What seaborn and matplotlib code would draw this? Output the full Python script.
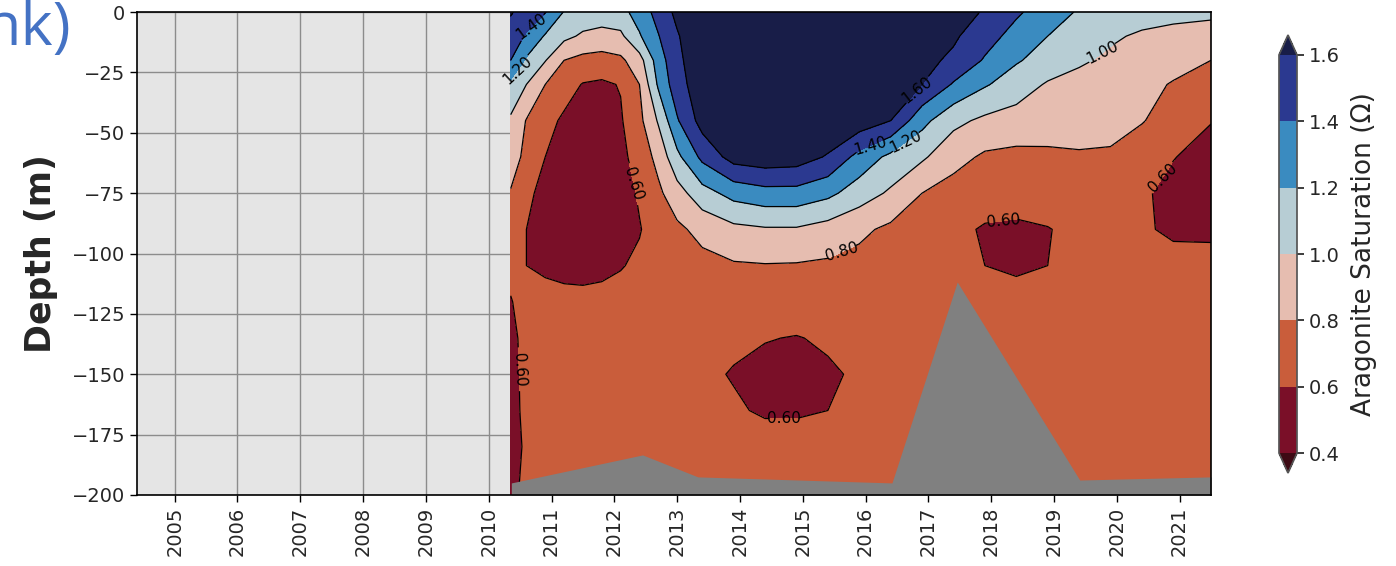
#------------------------------------------------------------------------------#
#                  Aragonite saturation - depth / time section
#------------------------------------------------------------------------------#

import matplotlib
matplotlib.use("Agg")
import matplotlib.pyplot as plt
from matplotlib.colors import ListedColormap
import seaborn as sns

# Data ------------------------------------------------------------------------#

years = [2010.35, 2010.6, 2010.9, 2011.2, 2011.5, 2011.8, 2012.1, 2012.4,
         2012.7, 2013.0, 2013.4, 2013.9, 2014.4, 2014.9, 2015.4, 2015.9,
         2016.4, 2016.9, 2017.4, 2017.9, 2018.4, 2018.9, 2019.4, 2019.9,
         2020.4, 2020.9, 2021.5]

depths = [0, -10, -20, -30, -45, -60, -75, -90, -105, -120, -135, -150, -165, -180, -200]

# one row per depth, one value per year
omega = [
    [1.62, 1.50, 1.41, 1.19, 1.12, 1.10, 1.13, 1.29, 1.47, 1.65, 1.80, 1.90, 1.95, 1.95, 1.95, 1.90, 1.85, 1.80, 1.70, 1.58, 1.43, 1.30, 1.18, 1.12, 1.09, 1.07, 1.05],
    [1.50, 1.38, 1.18, 1.05, 0.97, 0.94, 0.96, 1.18, 1.39, 1.58, 1.78, 1.88, 1.92, 1.92, 1.90, 1.85, 1.80, 1.72, 1.63, 1.48, 1.33, 1.20, 1.10, 1.03, 0.97, 0.93, 0.90],
    [1.40, 1.17, 1.01, 0.80, 0.74, 0.72, 0.76, 0.92, 1.30, 1.55, 1.75, 1.85, 1.90, 1.90, 1.87, 1.82, 1.75, 1.66, 1.56, 1.38, 1.22, 1.12, 1.03, 0.96, 0.90, 0.85, 0.80],
    [1.15, 1.00, 0.80, 0.68, 0.59, 0.57, 0.61, 0.80, 1.23, 1.52, 1.72, 1.82, 1.85, 1.85, 1.82, 1.78, 1.70, 1.60, 1.38, 1.22, 1.10, 0.98, 0.93, 0.88, 0.84, 0.79, 0.75],
    [0.97, 0.79, 0.66, 0.57, 0.51, 0.50, 0.58, 0.75, 1.02, 1.38, 1.68, 1.78, 1.80, 1.80, 1.78, 1.72, 1.60, 1.26, 1.05, 0.96, 0.92, 0.90, 0.88, 0.85, 0.81, 0.72, 0.61],
    [0.87, 0.76, 0.60, 0.50, 0.45, 0.48, 0.55, 0.68, 0.86, 1.15, 1.45, 1.68, 1.72, 1.70, 1.58, 1.33, 1.15, 1.03, 0.87, 0.77, 0.75, 0.76, 0.78, 0.78, 0.70, 0.61, 0.50],
    [0.79, 0.65, 0.53, 0.47, 0.44, 0.46, 0.52, 0.62, 0.76, 0.92, 1.12, 1.27, 1.33, 1.33, 1.25, 1.10, 0.97, 0.80, 0.72, 0.70, 0.70, 0.72, 0.74, 0.72, 0.64, 0.52, 0.47],
    [0.72, 0.60, 0.52, 0.48, 0.46, 0.48, 0.52, 0.59, 0.68, 0.76, 0.86, 0.95, 0.98, 0.98, 0.92, 0.84, 0.76, 0.70, 0.65, 0.58, 0.56, 0.59, 0.66, 0.68, 0.63, 0.56, 0.56],
    [0.65, 0.60, 0.56, 0.53, 0.54, 0.56, 0.59, 0.63, 0.67, 0.70, 0.74, 0.78, 0.79, 0.785, 0.77, 0.74, 0.71, 0.68, 0.65, 0.60, 0.57, 0.60, 0.65, 0.68, 0.69, 0.68, 0.67],
    [0.59, 0.67, 0.68, 0.67, 0.65, 0.65, 0.66, 0.68, 0.70, 0.71, 0.72, 0.73, 0.73, 0.73, 0.72, 0.71, 0.70, 0.69, 0.68, 0.67, 0.67, 0.68, 0.69, 0.70, 0.71, 0.71, 0.71],
    [0.55, 0.66, 0.70, 0.71, 0.71, 0.71, 0.71, 0.71, 0.70, 0.68, 0.66, 0.63, 0.61, 0.59, 0.63, 0.66, 0.68, 0.69, 0.69, 0.69, 0.69, 0.69, 0.70, 0.70, 0.71, 0.71, 0.71],
    [0.53, 0.66, 0.71, 0.72, 0.72, 0.72, 0.72, 0.71, 0.69, 0.66, 0.63, 0.59, 0.54, 0.53, 0.57, 0.63, 0.67, 0.69, 0.70, 0.70, 0.70, 0.70, 0.70, 0.71, 0.71, 0.71, 0.71],
    [0.53, 0.65, 0.72, 0.73, 0.73, 0.73, 0.73, 0.72, 0.71, 0.69, 0.66, 0.62, 0.58, 0.58, 0.60, 0.65, 0.68, 0.70, 0.70, 0.70, 0.71, 0.71, 0.71, 0.71, 0.72, 0.72, 0.72],
    [0.55, 0.62, 0.70, 0.73, 0.74, 0.74, 0.74, 0.74, 0.73, 0.72, 0.70, 0.68, 0.67, 0.67, 0.68, 0.69, 0.70, 0.71, 0.71, 0.72, 0.72, 0.72, 0.72, 0.72, 0.73, 0.73, 0.73],
    [0.58, 0.62, 0.68, 0.72, 0.74, 0.74, 0.74, 0.74, 0.74, 0.73, 0.72, 0.70, 0.69, 0.69, 0.70, 0.70, 0.71, 0.72, 0.72, 0.72, 0.72, 0.73, 0.73, 0.73, 0.73, 0.74, 0.74],
]

# sea floor under the section
bottom_years = [2010.36, 2012.45, 2013.33, 2016.42, 2017.46, 2019.41, 2021.5]
bottom_depths = [-195, -183.4, -192.5, -195, -111.8, -193.8, -192.5]

levels = [0.4, 0.6, 0.8, 1.0, 1.2, 1.4, 1.6]
year_ticks = list(range(2005, 2022))
depth_ticks = [0, -25, -50, -75, -100, -125, -150, -175, -200]

# Style -----------------------------------------------------------------------#

sns.set_theme(style="ticks")
plt.rcParams['font.family'] = ['DejaVu Sans']

band_colors = ['#7a0f28', '#c95d3b', '#e6bdb0', '#b7cdd4', '#3a8bc0', '#2b3990']
cmap = ListedColormap(sns.color_palette(band_colors))
cmap.set_under('#3d0a14')
cmap.set_over('#181d48')

fig = plt.figure(figsize=(13.96, 5.66), dpi=100)
ax = fig.add_axes([137 / 1396, 71 / 566, 1074 / 1396, 483 / 566])
cax = fig.add_axes([1279 / 1396, 93 / 566, 18 / 1396, 438 / 566])

# Plot ------------------------------------------------------------------------#

ax.set_facecolor('#e5e5e5')
ax.set_axisbelow(True)
ax.grid(True, color='#8c8c8c', linewidth=1.0)

cf = ax.contourf(years, depths, omega, levels=levels, cmap=cmap, extend='both', zorder=1)
cs = ax.contour(years, depths, omega, levels=levels[1:], colors='black',
                linewidths=0.9, zorder=2)

label_spots = [(2010.6, -1), (2010.5, -26), (2012.25, -72), (2016.8, -31),
               (2016.07, -55), (2016.62, -52), (2019.73, -14), (2015.6, -96.5),
               (2018.2, -89), (2020.76, -70), (2010.45, -148), (2014.7, -169)]
ax.clabel(cs, fmt='%.2f', fontsize=11, manual=label_spots, inline=True)

ax.fill_between(bottom_years, bottom_depths, -200, color='#808080', linewidth=0, zorder=2.5)

ax.set_xlim(2004.4, 2021.5)
ax.set_ylim(-200, 0)
ax.set_xticks(year_ticks)
ax.set_xticklabels([str(y) for y in year_ticks], rotation=90)
ax.set_yticks(depth_ticks)
ax.tick_params(labelsize=14, length=5, width=1, color='black')
for s in ax.spines.values():
    s.set_color('black')
    s.set_linewidth(1.2)
ax.set_ylabel('Depth (m)', fontsize=25, fontweight='bold', labelpad=10)

cb = fig.colorbar(cf, cax=cax, ticks=levels)
cb.ax.tick_params(labelsize=14, length=5)
cb.outline.set_edgecolor('#555555')
cb.set_label('Aragonite Saturation (Ω)', fontsize=19, labelpad=8)

# cut-off slide title at the top left
fig.text(-16 / 1396, 1 - 45 / 566, 'nk)', fontsize=44, color='#4472c4',
         family='Open Sans', va='baseline')

fig.savefig('out.png', dpi=100)
